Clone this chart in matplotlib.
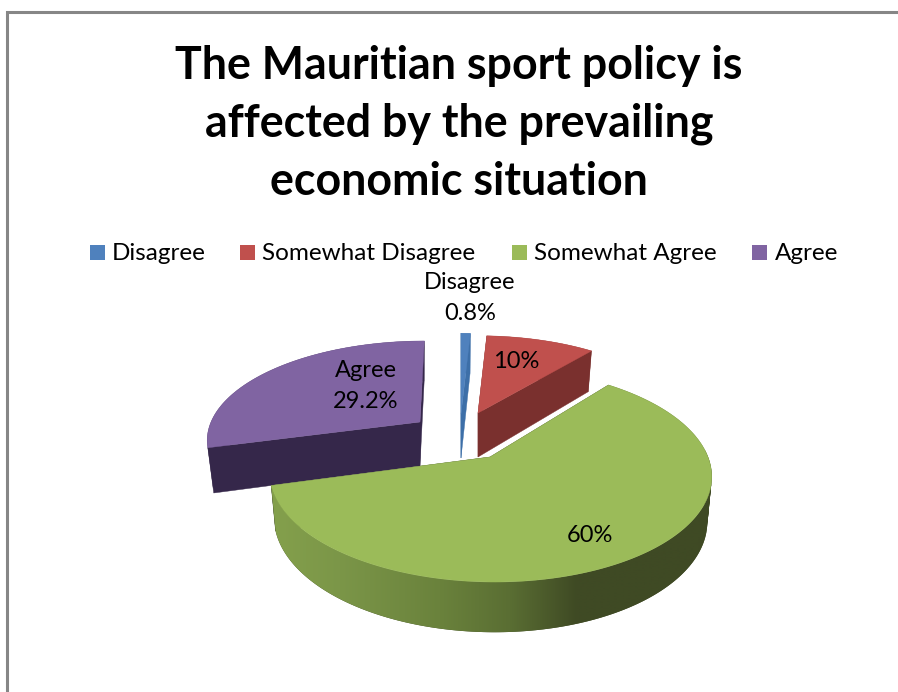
#!/usr/bin/env python3
# exploded 3D pie, projected by hand because matplotlib has no real 3D pie
import numpy as np
import matplotlib
matplotlib.use("Agg")
import matplotlib.pyplot as plt
from matplotlib.colors import to_rgb
from matplotlib.patches import PathPatch, Polygon, Rectangle
from matplotlib.path import Path

# ---------- data ----------
categories = ["Disagree", "Somewhat Disagree", "Somewhat Agree", "Agree"]
shares = [0.8, 10, 60, 29.2]
slice_labels = ["Disagree\n0.8%", "10%", "60%", "Agree\n29.2%"]
title = "The Mauritian sport policy is\naffected by the prevailing\neconomic situation"

# ---------- style / layout (pixels, y down) ----------
top_colors = ["#4f81bd", "#c0504d", "#9bbb59", "#8064a2"]
side_colors = ["#3d6fa8", "#7a302e", "#3f4a24", "#35274a"]
apex = [(461, 414), (478, 413), (490, 457), (420, 422)]
slice_rx = [216, 204, 218, 209]
slice_ry = [94, 90, 104.4, 94.4]
slice_skew = [0, 0, -4, 5]
slice_shrink = [0.972, 0.972, 0.98, 0.972]
label_pos = [(470, 298), (516, 362), (590, 536), (366, 386)]
legend_x = [(90, 112), (240, 262), (512, 534), (752, 775)]
PERSP = 0.165
DEPTH = 44
# gradient along the front of the green rim, pixel x -> colour
green_x = [272, 340, 440, 510, 577, 712]
green_cols = ["#84a04c", "#7b9648", "#6a823c", "#5a6e33", "#3f4a24", "#3f4a24"]

plt.rcParams["font.family"] = ["Lato", "DejaVu Sans"]
fig = plt.figure(figsize=(8.98, 6.92), dpi=100)
ax = fig.add_axes([0, 0, 1, 1])


def project(i, ang):
    # ang in radians, clockwise from 12 o'clock, returns top ring + bottom ring
    c = apex[i]
    X, Y = np.sin(ang), np.cos(ang)
    s = 1 / (1 + PERSP * Y)
    dx = (slice_rx[i] * X + slice_skew[i] * Y) * s
    dy = -slice_ry[i] * Y * s
    top = np.column_stack([c[0] + dx, c[1] + dy])
    bot = np.column_stack([c[0] + slice_shrink[i] * dx, c[1] + slice_shrink[i] * dy + DEPTH * s])
    return top, bot


def rim_path(top, bot):
    # union of quads, all wound the same way so the fold at the silhouette stays filled
    parts = []
    for j in range(len(top) - 1):
        q = np.array([top[j], top[j + 1], bot[j + 1], bot[j]])
        x, y = q[:, 0], q[:, 1]
        if np.dot(x, np.roll(y, -1)) - np.dot(y, np.roll(x, -1)) < 0:
            q = q[::-1]
        parts.append(Path(np.vstack([q, q[0]]), closed=True))
    return Path.make_compound_path(*parts)


def draw_slice(i, a0, a1):
    c = apex[i]
    z = 2 + i * 0.1
    ang = np.radians(np.linspace(a0, a1, 240))
    top, bot = project(i, ang)
    base = (c[0], c[1] + DEPTH)

    # cut faces first, the top surface hides the ones facing away
    for k in (0, -1):
        face = [c, top[k], bot[k], base]
        ax.add_patch(Polygon(face, fc=side_colors[i], ec=side_colors[i], lw=0.3, zorder=z))

    rim = PathPatch(rim_path(top, bot), fc=side_colors[i], ec="none", zorder=z)
    ax.add_patch(rim)
    if i == 2:
        # green rim shades left to right, image clipped to the rim shape
        xs = np.arange(green_x[0] - 5, green_x[-1] + 5)
        rgb = np.array([to_rgb(h) for h in green_cols])
        grad = np.stack([np.interp(xs, green_x, rgb[:, n]) for n in range(3)], axis=-1)[None, :, :]
        im = ax.imshow(grad, extent=(xs[0], xs[-1], 650, 450), aspect="auto",
                       interpolation="bilinear", zorder=z + 0.01)
        im.set_clip_path(rim)

    outline = np.vstack([[c], top])
    ax.add_patch(Polygon(outline, fc=top_colors[i], ec=top_colors[i], lw=0.3, zorder=3 + i * 0.1))


# chart frame, runs off the right and bottom of the crop
ax.plot([7, 7, 898], [692, 12, 12], color="#868686", lw=2.2, solid_joinstyle="miter", zorder=1)

ax.text(459, 124, title, ha="center", va="center", fontsize=32.2, fontweight="bold",
        color="black", linespacing=1.46)

edges = np.concatenate([[0], np.cumsum(shares)]) / np.sum(shares) * 360
for i in [3, 0, 1, 2]:
    draw_slice(i, edges[i], edges[i + 1])

for i, name in enumerate(categories):
    sx, tx = legend_x[i]
    ax.add_patch(Rectangle((sx, 245), 15, 15, fc=top_colors[i], ec="none", zorder=3))
    ax.text(tx, 254, name, ha="left", va="center", fontsize=17.5, color="black")

for i, lab in enumerate(slice_labels):
    ax.text(label_pos[i][0], label_pos[i][1], lab, ha="center", va="center", fontsize=17,
            color="black", linespacing=1.55, zorder=6)

ax.set_xlim(0, 898)
ax.set_ylim(692, 0)
ax.axis("off")
fig.savefig("out.png", dpi=100)
